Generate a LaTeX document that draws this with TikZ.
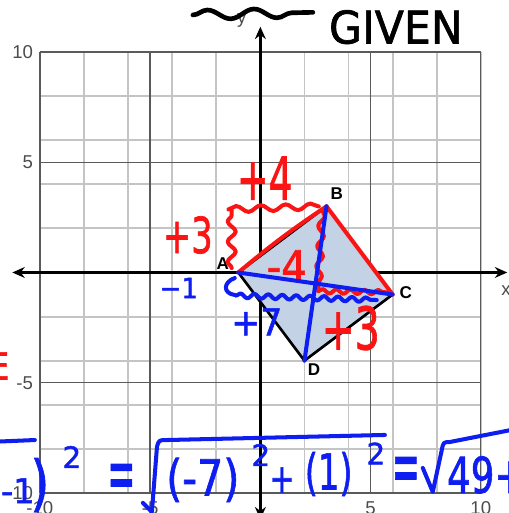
\documentclass[tikz,border=0pt]{standalone}
\usepackage{fontspec}
\setmainfont{Liberation Sans}
\newfontfamily\handfont[FakeBold=1.5]{DejaVu Sans}
\usetikzlibrary{arrows.meta,decorations.pathmorphing}
\definecolor{penred}{RGB}{250,20,20}
\definecolor{penblue}{RGB}{15,30,240}
\definecolor{quadfill}{RGB}{196,210,230}
\definecolor{minorgray}{RGB}{196,196,196}
\definecolor{majorgray}{RGB}{90,90,90}

\begin{document}
\begin{tikzpicture}[x=0.5cm,y=0.5cm]
\tikzstyle{minorgrid}=[minorgray,line width=1.2pt]
\tikzstyle{majorgrid}=[majorgray,line width=0.9pt]
\tikzstyle{axis}=[line width=1.7pt,{Stealth[length=8pt,width=7pt]}-{Stealth[length=8pt,width=7pt]}]
\tikzstyle{ticklbl}=[text=black!70,inner sep=0pt,font=\fontsize{12}{14}\selectfont]
\tikzstyle{vertex}=[inner sep=0pt,font=\bfseries\fontsize{11}{13}\selectfont]
\tikzstyle{quad}=[fill=quadfill,draw=black,line width=1.7pt,line join=round]
\tikzstyle{redpen}=[penred,line width=2.6pt,line cap=round,line join=round]
\tikzstyle{bluepen}=[penblue,line width=2.6pt,line cap=round,line join=round]
\tikzstyle{blackpen}=[black,line width=3pt,line cap=round,line join=round]
\tikzstyle{wavy}=[decorate,decoration={snake,amplitude=2pt,segment length=12pt}]
\tikzstyle{hand}=[inner sep=0pt]

\useasboundingbox (-11.81,-10.91) rectangle (11.27,12.36);
\clip (-11.81,-10.91) rectangle (11.27,12.36);

\draw[minorgrid] (-10,-10) grid (10,10);
\draw[majorgrid,step=5] (-10,-10) grid (10,10);
\draw[axis] (-11.25,0) -- (11.2,0);
\draw[axis] (0,-11.2) -- (0,11.15);
\node[ticklbl] (xlbl) at (11.14,-0.8) {x};
\node[ticklbl] (ylbl) at (-0.84,11.45) {y};
\foreach \v/\t in {10/10,5/5,-5/-5,-10/-10} {
  \node[ticklbl,anchor=east] (ly\v) at (-10.3,\v) {\t};
  \node[ticklbl] (lx\v) at (\v,-10.68) {\t};
}

\coordinate (A) at (-1,0);
\coordinate (B) at (3,3);
\coordinate (C) at (6,-1);
\coordinate (D) at (2,-4);
\filldraw[quad] (A) -- (B) -- (C) -- (D) -- cycle;
\node[vertex] (labA) at (-1.7,0.39) {A};
\node[vertex] (labB) at (3.47,3.56) {B};
\node[vertex] (labC) at (6.6,-0.93) {C};
\node[vertex] (labD) at (2.43,-4.42) {D};

\draw[blackpen,wavy,decoration={amplitude=3pt,segment length=30pt}] (-3.06,11.68) -- (2.38,11.8);
\node[hand,font=\handfont\fontsize{29}{29}\selectfont,xscale=0.95] (given) at (6.15,11.13) {GIVEN};

\draw[redpen] (A) to[bend left=3] (B);
\draw[redpen] (B) -- (C);
\draw[redpen,wavy,decoration={amplitude=2.6pt,segment length=13pt}] (-1.3,0.2) -- (-1.3,2.83);
\draw[redpen,wavy,decoration={amplitude=2pt,segment length=16pt}] (-1.45,2.86) -- (2.65,3.0);
\draw[redpen,wavy,decoration={amplitude=2pt,segment length=13pt}] (2.8,2.85) -- (2.62,-0.82);
\draw[redpen,wavy,decoration={amplitude=1.4pt,segment length=9pt}] (2.62,-0.85) -- (5.85,-0.9);
\node[hand,text=penred,font=\handfont\fontsize{38}{38}\selectfont,xscale=0.64] (plusfour) at (0.2,4.28) {+4};
\node[hand,text=penred,font=\handfont\fontsize{32}{32}\selectfont,xscale=0.68] (plusthree) at (-3.29,1.7) {+3};
\node[hand,text=penred,font=\handfont\fontsize{28}{28}\selectfont,xscale=0.93] (minusfour) at (1.2,0.29) {-4};
\node[hand,text=penred,font=\handfont\fontsize{38}{38}\selectfont,xscale=0.67] (rightthree) at (4.1,-2.52) {+3};
\node[hand,text=penred,font=\handfont\fontsize{24}{24}\selectfont,anchor=east] (redE) at (-11.36,-4.24) {E};

\draw[bluepen] (A) -- (C);
\draw[bluepen] (B) -- (D);
\draw[bluepen] (-1.16,-0.25) .. controls (-1.7,-0.45) and (-1.7,-0.95) .. (-1.16,-1.02);
\draw[bluepen,wavy,decoration={amplitude=1.5pt,segment length=9pt}] (-1.1,-1.05) -- (5.28,-1.25);
\node[hand,text=penblue,font=\handfont\fontsize{18}{18}\selectfont,xscale=0.93] (minusone) at (-3.7,-0.7) {−1};
\node[hand,text=penblue,font=\handfont\fontsize{24}{24}\selectfont,xscale=0.93] (plusseven) at (-0.16,-2.24) {+7};

\draw[bluepen] (-11.9,-7.67) -- (-10.23,-7.6);
\node[hand,text=penblue,font=\handfont\fontsize{22}{22}\selectfont] (negone) at (-11.0,-9.9) {-1};
\node[hand,text=penblue,font=\handfont\fontsize{39}{39}\selectfont,xscale=0.8] (bigparen) at (-10.0,-9.64) {)};
\node[hand,text=penblue,font=\handfont\fontsize{19}{19}\selectfont] (sqzero) at (-8.55,-8.37) {2};
\node[hand,text=penblue,font=\handfont\fontsize{36}{36}\selectfont,xscale=0.6,yscale=1.4] (eqone) at (-6.3,-9.5) {=};
\draw[bluepen] (-5.33,-10.45) -- (-4.92,-10.86) -- (-4.69,-7.91) .. controls (-4.6,-7.6) .. (-4.24,-7.6) -- (5.65,-7.37);
\node[hand,text=penblue,font=\handfont\fontsize{32}{32}\selectfont,xscale=0.83] (minusseven) at (-2.61,-9.41) {(-7)};
\node[hand,text=penblue,font=\handfont\fontsize{19}{19}\selectfont] (sqone) at (0.02,-8.28) {2};
\node[hand,text=penblue,font=\handfont\fontsize{26}{26}\selectfont,xscale=0.75] (plussign) at (0.98,-9.41) {+};
\node[hand,text=penblue,font=\handfont\fontsize{32}{32}\selectfont,xscale=0.68] (onepar) at (3.1,-9.14) {(1)};
\node[hand,text=penblue,font=\handfont\fontsize{19}{19}\selectfont] (sqtwo) at (5.24,-8.21) {2};
\node[hand,text=penblue,font=\handfont\fontsize{36}{36}\selectfont,xscale=0.6,yscale=1.4] (eqtwo) at (6.6,-9.18) {=};
\draw[bluepen] (7.37,-8.87) -- (7.82,-9.95) -- (8.23,-8.05) .. controls (8.3,-7.7) .. (8.59,-7.69) -- (11.6,-7.1);
\node[hand,text=penblue,font=\handfont\fontsize{32}{32}\selectfont,xscale=0.75,anchor=west] (fortynine) at (8.46,-9.18) {49+};
\end{tikzpicture}
\end{document}
